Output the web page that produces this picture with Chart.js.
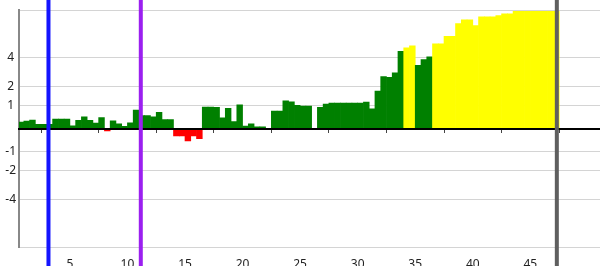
<!DOCTYPE html>
<html>
<head>
<meta charset="utf-8">
<script src="https://cdn.jsdelivr.net/npm/chart.js@4.4.0/dist/chart.umd.min.js"></script>
<style>
  body { margin: 0; background: #fff; }
  #wrap { width: 600px; height: 266px; }
</style>
</head>
<body>
<div id="wrap"><canvas id="bars"></canvas></div>
<script>
// one value per half-unit bin, first bin starts at 0.5
const values = [
  0.25, 0.29, 0.34, 0.16, 0.16, 0.16, 0.38, 0.38, 0.38, 0.11,
  0.33, 0.47, 0.33, 0.21, 0.44, -0.09, 0.30, 0.18, 0.09, 0.22,
  0.77, 0.53, 0.53, 0.47, 0.67, 0.36, 0.36, -0.29, -0.29, -0.50,
  -0.29, -0.40, 0.91, 0.91, 0.90, 0.43, 0.85, 0.27, 1.02, 0.10,
  0.18, 0.07, 0.07, -0.04, 0.72, 0.72, 1.22, 1.17, 1.00, 0.96,
  0.96, null, 0.90, 1.05, 1.10, 1.10, 1.10, 1.10, 1.10, 1.10,
  1.15, 0.83, 1.74, 2.63, 2.57, 2.88, 4.53, 4.84, 5.02, 3.41,
  3.86, 4.07, 5.20, 5.20, 5.93, 5.93, 7.32, 7.78, 7.78, 7.09,
  8.14, 8.14, 8.14, 8.30, 8.51, 8.51, 8.85, 8.85, 8.85, 8.85,
  8.85, 8.85, 8.85, 8.85
];
// bins shown in yellow
const highlighted = [67, 68, 72, 73, 74, 75, 76, 77, 78, 79, 80, 81, 82, 83,
  84, 85, 86, 87, 88, 89, 90, 91, 92, 93];
const xTicks = [5, 10, 15, 20, 25, 30, 35, 40, 45];
const yTickValues = [9, 4, 2, 1, -1, -2, -4, -9];
const yTickLabels = ['', '4', '2', '1', '-1', '-2', '-4', ''];
const markers = [3.14, 11.16, 47.3];
const markerColors = ['#1414ff', '#9b1ff0', '#5f5f5f'];

// compressed value axis
const SOFT = 3.5;
const squash = v => Math.sign(v) * Math.log(1 + Math.abs(v) / SOFT);

const points = values.map((v, i) => ({ x: 0.75 + i * 0.5, y: v === null ? null : squash(v) }));
const colors = values.map((v, i) => {
  if (highlighted.includes(i)) return '#ffff00';
  return v < 0 ? '#ff0000' : '#008000';
});

const markerLines = {
  id: 'markerLines',
  afterDraw(chart) {
    const ctx = chart.ctx;
    const x = chart.scales.x;
    ctx.save();
    ctx.lineWidth = 4;
    markers.forEach((m, i) => {
      const px = x.getPixelForValue(m);
      ctx.strokeStyle = markerColors[i];
      ctx.beginPath();
      ctx.moveTo(px, 0);
      ctx.lineTo(px, chart.height);
      ctx.stroke();
    });
    ctx.restore();
  }
};

const font = { family: 'Noto Sans', size: 12 };
const xMin = 0.58, xMax = 51.05;

new Chart(document.getElementById('bars'), {
  type: 'bar',
  data: {
    datasets: [{
      data: points,
      backgroundColor: colors,
      borderWidth: 0,
      barPercentage: 1,
      categoryPercentage: 1
    }]
  },
  options: {
    responsive: true,
    maintainAspectRatio: false,
    animation: false,
    layout: { padding: { top: 6, left: 0, right: 0, bottom: 0 } },
    plugins: { legend: { display: false }, tooltip: { enabled: false } },
    scales: {
      x: {
        type: 'linear',
        offset: false,
        min: xMin,
        max: xMax,
        afterBuildTicks: s => { s.ticks = xTicks.map(v => ({ value: v })); },
        afterFit: s => { s.height = 19; },
        grid: { display: false },
        border: { display: false },
        ticks: { color: '#222', font, padding: 2, maxRotation: 0 }
      },
      x2: {
        type: 'linear',
        axis: 'x',
        offset: false,
        position: { y: 0 },
        min: xMin,
        max: xMax,
        afterBuildTicks: s => { s.ticks = xTicks.map(v => ({ value: v })); },
        grid: { drawOnChartArea: false, drawTicks: true, tickLength: 3, color: '#444' },
        border: { color: '#000', width: 2, z: 1 },
        ticks: { display: false }
      },
      y: {
        min: -squash(9),
        max: squash(9),
        afterBuildTicks: s => { s.ticks = yTickValues.map(v => ({ value: squash(v) })); },
        afterFit: s => { s.width = 19; },
        grid: { color: '#d4d4d4', drawTicks: false },
        border: { color: '#888', width: 2 },
        ticks: {
          color: '#222',
          font,
          padding: 3,
          crossAlign: 'center',
          callback: (val, i) => yTickLabels[i]
        }
      }
    }
  },
  plugins: [markerLines]
});
</script>
</body>
</html>
